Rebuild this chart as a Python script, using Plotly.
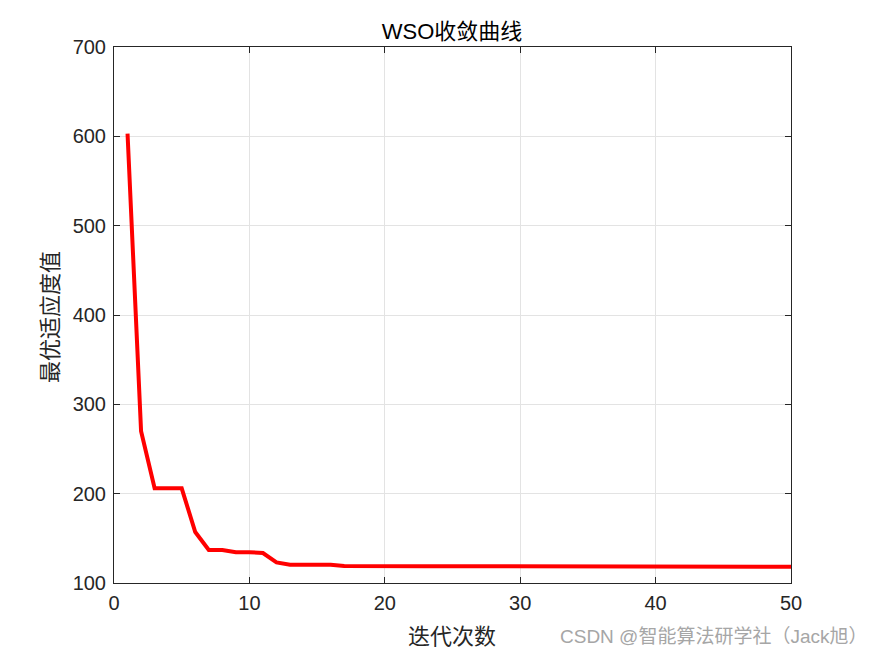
import plotly.graph_objects as go

iterations = list(range(1, 51))
fitness = [603, 270, 206, 206, 206, 157, 137, 137, 134.5, 134.5,
           133.5, 123, 120.5, 120.5, 120.5, 120.5, 119, 118.8, 118.8, 118.8,
           118.8, 118.8, 118.8, 118.8, 118.8, 118.5, 118.5, 118.5, 118.5, 118.5,
           118.5, 118.5, 118.5, 118.5, 118.5, 118.5, 118.5, 118.5, 118.5, 118.5,
           118.2, 118.2, 118.2, 118.2, 118.2, 118.2, 118.2, 118.2, 118.2, 118.2]

x_ticks = [0, 10, 20, 30, 40, 50]
y_ticks = [100, 200, 300, 400, 500, 600, 700]

title_text = "WSO收敛曲线"
x_title = "迭代次数"
y_title = "最优适应度值"
watermark = "CSDN @智能算法研学社（Jack旭）"

fig = go.Figure()
fig.add_trace(go.Scatter(x=iterations, y=fitness, mode="lines",
                         line=dict(color="#ff0000", width=4), showlegend=False))

axis_common = dict(
    showline=True, linecolor="#262626", linewidth=1, mirror="allticks",
    ticks="inside", ticklen=6, tickcolor="#262626",
    showgrid=True, gridcolor="#e3e3e3", gridwidth=1, zeroline=False,
    tickfont=dict(family="Liberation Sans, Arial", size=20, color="#262626"),
)

# page has an 8px body margin; plot area on page: x 114..791, y 47..583
fig.update_layout(
    width=875, height=656,
    margin=dict(l=106, r=92, t=39, b=81),
    paper_bgcolor="white", plot_bgcolor="white",
    title=dict(text=title_text, x=444 / 875, xanchor="center",
               y=1 - 23 / 656, yanchor="middle",
               font=dict(family="Liberation Sans, Noto Sans CJK SC", size=22, color="#000000")),
    xaxis=dict(range=[0, 50], tickvals=x_ticks, ticklabelstandoff=2, **axis_common),
    yaxis=dict(range=[100, 700], tickvals=y_ticks, ticklabelstandoff=3, **axis_common),
)

fig.add_annotation(text=x_title, xref="paper", yref="paper", x=(452 - 114) / 677, y=-(634 - 583) / 536,
                   xanchor="center", yanchor="middle", showarrow=False,
                   font=dict(family="Noto Sans CJK SC", size=22, color="#262626"))
fig.add_annotation(text=y_title, xref="paper", yref="paper", x=-(114 - 48) / 677, y=(583 - 317) / 536,
                   xanchor="center", yanchor="middle", textangle=-90, showarrow=False,
                   font=dict(family="Noto Sans CJK SC", size=22, color="#262626"))
fig.add_annotation(text=watermark, xref="paper", yref="paper", x=(558 - 114) / 677,
                   y=-(636 - 583) / 536, xanchor="left", yanchor="middle", showarrow=False,
                   font=dict(family="Liberation Sans, Noto Sans CJK SC", size=19, color="#a6a6a6"))

fig.write_html("out.html")
